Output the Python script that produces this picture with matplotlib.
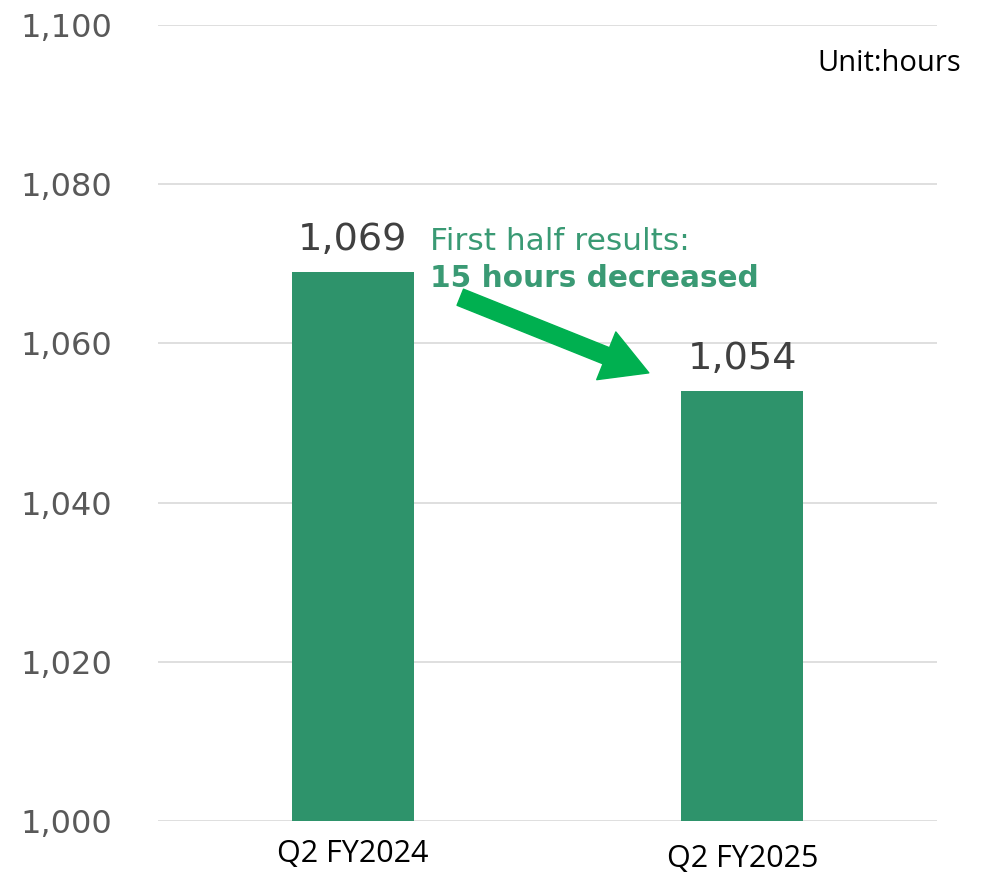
import matplotlib
matplotlib.use("Agg")
import matplotlib.pyplot as plt
from matplotlib.ticker import FuncFormatter

# データ
categories = ["Q2 FY2024", "Q2 FY2025"]
hours = [1069, 1054]
y_ticks = [1000, 1020, 1040, 1060, 1080, 1100]

bar_color = "#2E936B"
arrow_color = "#00B050"
note_color = "#3A9A74"

fig = plt.figure(figsize=(9.84, 8.74), dpi=100)
ax = fig.add_axes([0.1606, 0.0606, 0.7917, 0.9108])

x = range(len(categories))
bars = ax.bar(x, hours, width=0.314, color=bar_color, zorder=3)

ax.set_xlim(-0.5, 1.5)
ax.set_ylim(1000, 1100)
ax.set_yticks(y_ticks)
ax.yaxis.set_major_formatter(FuncFormatter(lambda v, p: f"{int(v):,}"))
ax.tick_params(axis="y", length=0, labelsize=23, labelcolor="#595959", pad=33)
ax.tick_params(axis="x", length=0, labelsize=22, pad=13)
ax.set_xticks(list(x))
ax.set_xticklabels(categories, fontfamily="Open Sans")
ax.get_xticklabels()[1].set_y(-0.006)
ax.grid(axis="y", color="#D9D9D9", linewidth=1.2, zorder=0)
for s in ax.spines.values():
    s.set_visible(False)

# 値ラベル
for xi, h in zip(x, hours):
    ax.annotate(f"{h:,}", xy=(xi, h), xytext=(0, 10), textcoords="offset points",
                ha="center", va="bottom", fontsize=27.5, color="#404040")

# 注釈
ax.text(0.199, 1071.7, "First half results:", fontsize=22.5, color=note_color,
        ha="left", va="baseline")
ax.text(0.199, 1067.1, "15 hours decreased", fontsize=21.3, color=note_color,
        fontweight="bold", ha="left", va="baseline")

ax.annotate("", xy=(0.760, 1056.3), xytext=(0.276, 1065.8),
            arrowprops=dict(width=12.5, headwidth=37, headlength=33,
                            color=arrow_color, shrink=0))

fig.text(0.977, 0.927, "Unit:hours", fontsize=21, ha="right", va="center",
         fontfamily="Open Sans")

fig.savefig("out.png", dpi=100)
